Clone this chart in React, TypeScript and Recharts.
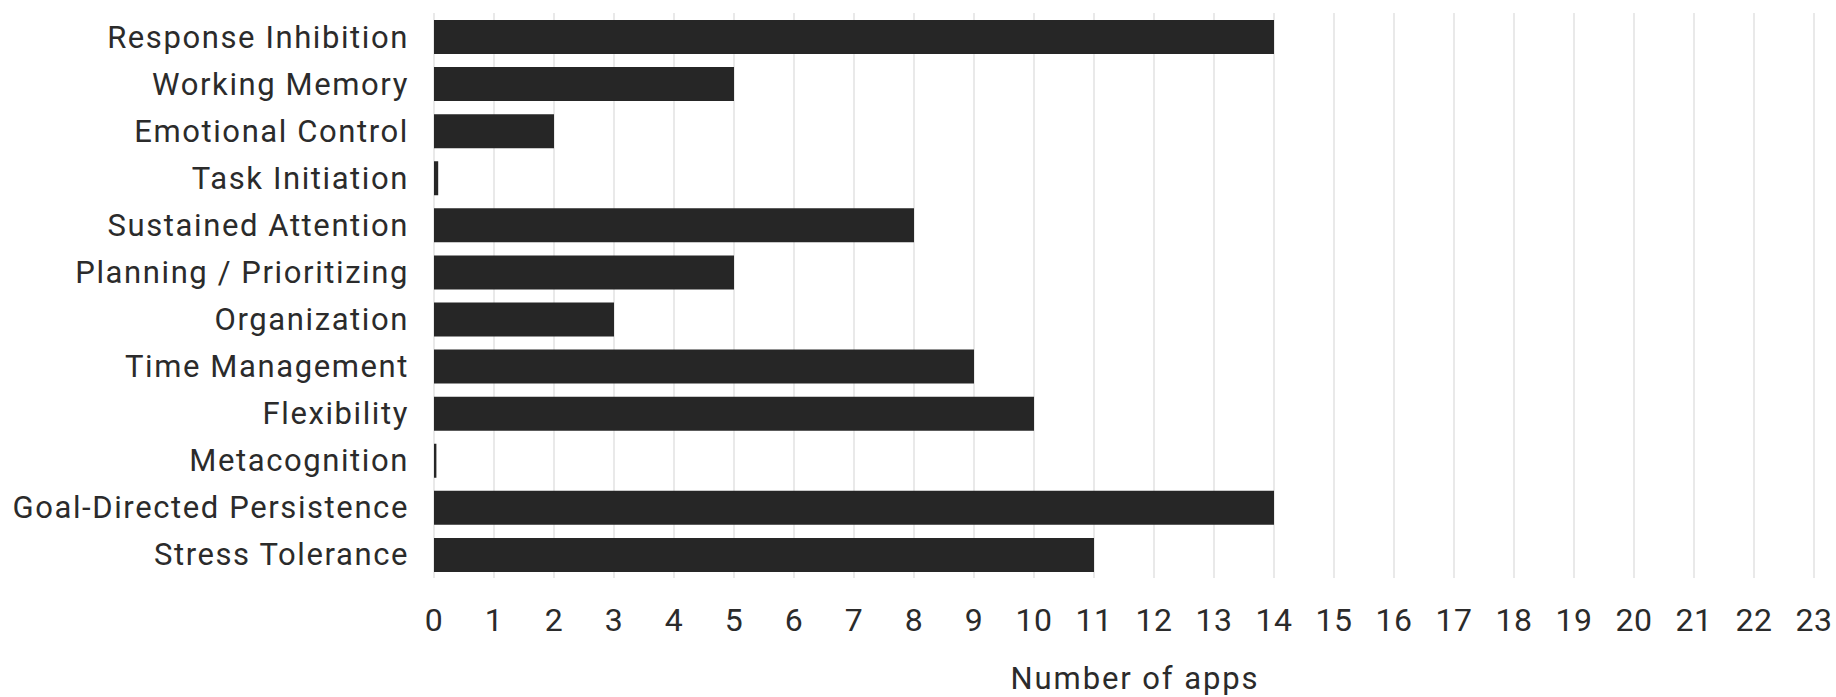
import { BarChart, Bar, XAxis, YAxis, CartesianGrid } from "recharts";

const categories = [
  "Response Inhibition",
  "Working Memory",
  "Emotional Control",
  "Task Initiation",
  "Sustained Attention",
  "Planning / Prioritizing",
  "Organization",
  "Time Management",
  "Flexibility",
  "Metacognition",
  "Goal-Directed Persistence",
  "Stress Tolerance",
];

const appCounts = [14, 5, 2, 0.07, 8, 5, 3, 9, 10, 0.04, 14, 11];

const xTicks = [
  0, 1, 2, 3, 4, 5, 6, 7, 8, 9, 10, 11, 12, 13, 14, 15, 16, 17, 18, 19, 20, 21,
  22, 23,
];

const data = categories.map((label, i) => ({ label, value: appCounts[i] }));

const textColor = "#2b2b2b";

export default function App() {
  return (
    <div style={{ position: "absolute", left: 0, top: 0, fontFamily: "Roboto" }}>
      <BarChart
        width={1836}
        height={697}
        data={data}
        layout="vertical"
        margin={{ top: 13, right: 22, bottom: 0, left: 0 }}
      >
        <CartesianGrid horizontal={false} stroke="#e2e2e2" strokeWidth={1.5} />
        <XAxis
          type="number"
          domain={[0, 23]}
          ticks={xTicks}
          interval={0}
          axisLine={false}
          tickLine={false}
          tickSize={0}
          tickMargin={30}
          height={119}
          tick={{ fontSize: 32, fill: textColor, fontFamily: "Roboto", letterSpacing: 0.5 }}
          label={{
            value: "Number of apps",
            position: "insideBottom",
            offset: 8,
            dx: 11,
            fontSize: 31,
            fill: textColor,
            fontFamily: "Roboto",
            letterSpacing: 1.9,
          }}
        />
        <YAxis
          type="category"
          dataKey="label"
          width={434}
          axisLine={false}
          tickLine={false}
          tickSize={0}
          tickMargin={25}
          interval={0}
          tick={{ fontSize: 31, fill: textColor, fontFamily: "Roboto", letterSpacing: 1.6 }}
        />
        <Bar dataKey="value" fill="#262626" barSize={34} isAnimationActive={false} />
      </BarChart>
    </div>
  );
}
